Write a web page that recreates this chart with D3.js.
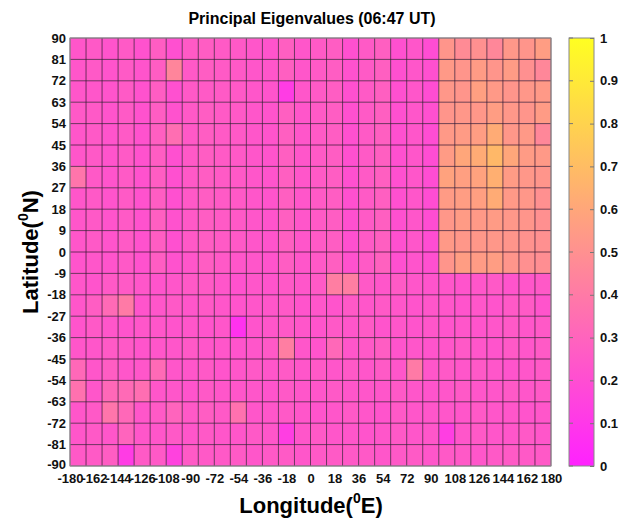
<!DOCTYPE html>
<html>
<head>
<meta charset="utf-8">
<script src="https://cdn.jsdelivr.net/npm/d3@7"></script>
<style>
  body { margin: 0; background: #fff; }
  text { font-family: Arial, "Liberation Sans", sans-serif; }
</style>
</head>
<body>
<svg width="628" height="522"></svg>
<script>
const lonTicks = [-180, -162, -144, -126, -108, -90, -72, -54, -36, -18, 0, 18, 36, 54, 72, 90, 108, 126, 144, 162, 180];
const latTicks = [-90, -81, -72, -63, -54, -45, -36, -27, -18, -9, 0, 9, 18, 27, 36, 45, 54, 63, 72, 81, 90];
const barTicks = [0, 0.1, 0.2, 0.3, 0.4, 0.5, 0.6, 0.7, 0.8, 0.9, 1];
// cell edges: 30 longitude bins of 12 deg, 20 latitude bins of 9 deg
const lonStep = 12;
const latStep = 9;
// rows from north (90..81) down to south (-81..-90)
const eigenValues = [
  [0.24,0.25,0.23,0.26,0.22,0.27,0.21,0.26,0.27,0.26,0.25,0.24,0.23,0.28,0.24,0.26,0.27,0.21,0.26,0.28,0.21,0.24,0.20,0.52,0.48,0.50,0.46,0.53,0.52,0.56],
  [0.24,0.25,0.23,0.26,0.23,0.27,0.45,0.25,0.27,0.26,0.25,0.24,0.24,0.28,0.24,0.26,0.27,0.22,0.26,0.28,0.21,0.24,0.21,0.54,0.52,0.55,0.52,0.55,0.50,0.46],
  [0.24,0.24,0.23,0.26,0.22,0.27,0.21,0.25,0.26,0.26,0.25,0.24,0.23,0.12,0.24,0.26,0.27,0.21,0.26,0.28,0.21,0.24,0.20,0.53,0.52,0.57,0.54,0.52,0.53,0.54],
  [0.25,0.25,0.23,0.26,0.22,0.27,0.22,0.25,0.27,0.26,0.25,0.24,0.23,0.28,0.24,0.26,0.27,0.21,0.26,0.28,0.21,0.24,0.21,0.52,0.53,0.53,0.56,0.53,0.52,0.55],
  [0.24,0.25,0.23,0.26,0.22,0.28,0.35,0.25,0.27,0.26,0.25,0.24,0.23,0.28,0.24,0.26,0.27,0.21,0.26,0.28,0.21,0.24,0.20,0.54,0.55,0.56,0.62,0.53,0.54,0.46],
  [0.24,0.25,0.23,0.26,0.22,0.27,0.21,0.25,0.27,0.26,0.25,0.24,0.23,0.28,0.24,0.26,0.27,0.21,0.26,0.28,0.21,0.24,0.20,0.55,0.60,0.62,0.68,0.60,0.55,0.54],
  [0.38,0.25,0.23,0.26,0.22,0.27,0.21,0.25,0.27,0.26,0.25,0.24,0.23,0.28,0.24,0.26,0.27,0.21,0.26,0.28,0.21,0.24,0.20,0.58,0.57,0.58,0.64,0.55,0.53,0.52],
  [0.24,0.25,0.23,0.26,0.22,0.27,0.21,0.25,0.27,0.26,0.25,0.24,0.23,0.28,0.24,0.26,0.27,0.21,0.26,0.28,0.21,0.24,0.20,0.55,0.56,0.57,0.62,0.54,0.53,0.50],
  [0.24,0.25,0.23,0.26,0.22,0.28,0.22,0.25,0.27,0.26,0.25,0.24,0.23,0.28,0.24,0.26,0.27,0.21,0.26,0.28,0.21,0.24,0.20,0.53,0.55,0.54,0.55,0.53,0.52,0.50],
  [0.24,0.25,0.23,0.26,0.22,0.27,0.21,0.25,0.27,0.26,0.25,0.24,0.23,0.28,0.24,0.26,0.27,0.21,0.26,0.28,0.21,0.24,0.20,0.54,0.53,0.53,0.53,0.52,0.51,0.50],
  [0.23,0.24,0.23,0.25,0.22,0.27,0.22,0.24,0.27,0.25,0.24,0.24,0.23,0.27,0.24,0.25,0.28,0.22,0.26,0.29,0.21,0.23,0.21,0.52,0.56,0.55,0.56,0.52,0.50,0.49],
  [0.24,0.23,0.25,0.26,0.24,0.23,0.24,0.25,0.26,0.24,0.22,0.24,0.23,0.25,0.24,0.26,0.42,0.42,0.25,0.24,0.26,0.24,0.23,0.24,0.23,0.24,0.25,0.23,0.24,0.25],
  [0.24,0.27,0.33,0.40,0.23,0.24,0.25,0.24,0.25,0.24,0.23,0.24,0.24,0.25,0.23,0.24,0.23,0.25,0.24,0.25,0.24,0.23,0.24,0.24,0.23,0.24,0.23,0.25,0.26,0.23],
  [0.23,0.25,0.24,0.23,0.24,0.24,0.23,0.24,0.23,0.24,0.08,0.23,0.24,0.25,0.24,0.23,0.25,0.24,0.26,0.23,0.24,0.23,0.24,0.23,0.24,0.23,0.24,0.25,0.24,0.25],
  [0.24,0.24,0.26,0.25,0.23,0.24,0.24,0.25,0.24,0.24,0.23,0.24,0.25,0.42,0.24,0.23,0.32,0.24,0.25,0.27,0.23,0.24,0.23,0.24,0.25,0.24,0.23,0.25,0.24,0.26],
  [0.32,0.24,0.27,0.24,0.24,0.33,0.24,0.24,0.25,0.23,0.24,0.25,0.24,0.26,0.24,0.25,0.24,0.25,0.24,0.26,0.24,0.40,0.24,0.25,0.24,0.25,0.24,0.23,0.24,0.25],
  [0.36,0.24,0.32,0.33,0.35,0.24,0.24,0.23,0.25,0.24,0.24,0.24,0.23,0.25,0.24,0.24,0.25,0.24,0.24,0.24,0.25,0.24,0.23,0.24,0.25,0.24,0.24,0.25,0.24,0.25],
  [0.24,0.25,0.38,0.32,0.24,0.26,0.30,0.25,0.27,0.25,0.36,0.24,0.24,0.25,0.24,0.23,0.24,0.25,0.24,0.23,0.25,0.24,0.24,0.24,0.24,0.25,0.24,0.24,0.23,0.24],
  [0.24,0.25,0.24,0.30,0.24,0.24,0.25,0.24,0.25,0.24,0.24,0.25,0.24,0.13,0.24,0.25,0.24,0.24,0.23,0.24,0.25,0.24,0.24,0.13,0.24,0.25,0.24,0.24,0.25,0.24],
  [0.25,0.26,0.27,0.12,0.26,0.25,0.15,0.26,0.25,0.25,0.26,0.24,0.25,0.26,0.24,0.25,0.26,0.25,0.25,0.24,0.25,0.26,0.24,0.25,0.25,0.24,0.25,0.26,0.25,0.25]
];

const svg = d3.select('svg');
const plotLeft = 70, plotRight = 551, plotTop = 38, plotBottom = 466;

const x = d3.scaleLinear().domain([-180, 180]).range([plotLeft, plotRight]);
const y = d3.scaleLinear().domain([-90, 90]).range([plotBottom, plotTop]);
const spring = d3.interpolateRgb('#ff00ff', '#ffff00');
const color = d3.scaleSequential(spring).domain([0, 1]);

const cells = [];
eigenValues.forEach((row, r) => {
  row.forEach((v, c) => {
    cells.push({lon: -180 + c * lonStep, lat: 90 - r * latStep, v});
  });
});

svg.append('g')
    .selectAll('rect')
    .data(cells)
    .enter()
    .append('rect')
    .attr('x', d => x(d.lon))
    .attr('y', d => y(d.lat))
    .attr('width', d => x(d.lon + lonStep) - x(d.lon))
    .attr('height', d => y(d.lat - latStep) - y(d.lat))
    .style('fill', d => color(d.v))
    .style('fill-opacity', 0.87);

// cell edges drawn separately so the faded fill does not fade them
svg.append('g')
    .selectAll('line.vgrid')
    .data(d3.range(-180, 180.001, lonStep))
    .enter()
    .append('line')
    .attr('x1', d => x(d)).attr('x2', d => x(d))
    .attr('y1', plotTop).attr('y2', plotBottom)
    .style('stroke', 'rgba(50,20,45,0.7)');
svg.append('g')
    .selectAll('line.hgrid')
    .data(d3.range(-90, 90.001, latStep))
    .enter()
    .append('line')
    .attr('x1', plotLeft).attr('x2', plotRight)
    .attr('y1', d => y(d)).attr('y2', d => y(d))
    .style('stroke', 'rgba(50,20,45,0.7)');

svg.append('rect')
    .attr('x', plotLeft).attr('y', plotTop)
    .attr('width', plotRight - plotLeft).attr('height', plotBottom - plotTop)
    .style('fill', 'none')
    .style('stroke', '#999')
    .style('stroke-width', '1px');

const xAxis = svg.append('g')
    .attr('transform', `translate(0,${plotBottom})`)
    .call(d3.axisBottom(x).tickValues(lonTicks).tickSize(0).tickPadding(8).tickFormat(d => String(d)));
xAxis.select('.domain').remove();
xAxis.selectAll('text')
    .style('font-size', '13px')
    .style('font-weight', 'bold')
    .style('fill', '#111');

const yAxis = svg.append('g')
    .attr('transform', `translate(${plotLeft},0)`)
    .call(d3.axisLeft(y).tickValues(latTicks).tickSize(0).tickPadding(4).tickFormat(d => String(d)));
yAxis.select('.domain').remove();
yAxis.selectAll('text')
    .attr('dy', d => d === -90 ? '0.2em' : '0.32em')
    .style('font-size', '13px')
    .style('font-weight', 'bold')
    .style('fill', '#111');

// colorbar
const barLeft = 569, barRight = 594;
const cbar = d3.scaleLinear().domain([0, 1]).range([plotBottom, plotTop]);
const defs = svg.append('defs');
const grad = defs.append('linearGradient')
    .attr('id', 'springGrad')
    .attr('x1', 0).attr('y1', 1).attr('x2', 0).attr('y2', 0);
d3.range(0, 1.0001, 0.1).forEach(t => {
  grad.append('stop').attr('offset', t).attr('stop-color', color(t)).attr('stop-opacity', 0.87);
});
svg.append('rect')
    .attr('x', barLeft).attr('y', plotTop)
    .attr('width', barRight - barLeft).attr('height', plotBottom - plotTop)
    .style('fill', 'url(#springGrad)')
    .style('stroke', '#888')
    .style('stroke-width', '1px');

const cAxis = svg.append('g')
    .attr('transform', `translate(${barRight},0)`)
    .call(d3.axisRight(cbar).tickValues(barTicks).tickSize(-4).tickPadding(6).tickFormat(d => String(d)));
cAxis.select('.domain').remove();
cAxis.selectAll('line').style('stroke', '#777');
cAxis.selectAll('text')
    .style('font-size', '13px')
    .style('font-weight', 'bold')
    .style('fill', '#111');
svg.append('g')
    .selectAll('line')
    .data(barTicks)
    .enter()
    .append('line')
    .attr('x1', barLeft).attr('x2', barLeft + 4)
    .attr('y1', d => cbar(d)).attr('y2', d => cbar(d))
    .style('stroke', '#777');

// titles
svg.append('text')
    .attr('x', 312).attr('y', 24)
    .attr('text-anchor', 'middle')
    .style('font-size', '16px')
    .style('font-weight', 'bold')
    .text('Principal Eigenvalues (06:47 UT)');

const xl = svg.append('text')
    .attr('x', 311).attr('y', 513)
    .attr('text-anchor', 'middle')
    .style('font-size', '22px')
    .style('font-weight', 'bold');
xl.append('tspan').text('Longitude(');
xl.append('tspan').attr('dy', -10).style('font-size', '14px').text('0');
xl.append('tspan').attr('dy', 10).text('E)');

const yl = svg.append('text')
    .attr('transform', 'translate(38,252) rotate(-90)')
    .attr('text-anchor', 'middle')
    .style('font-size', '22px')
    .style('font-weight', 'bold');
yl.append('tspan').text('Latitude(');
yl.append('tspan').attr('dy', -10).style('font-size', '14px').text('0');
yl.append('tspan').attr('dy', 10).text('N)');
</script>
</body>
</html>
